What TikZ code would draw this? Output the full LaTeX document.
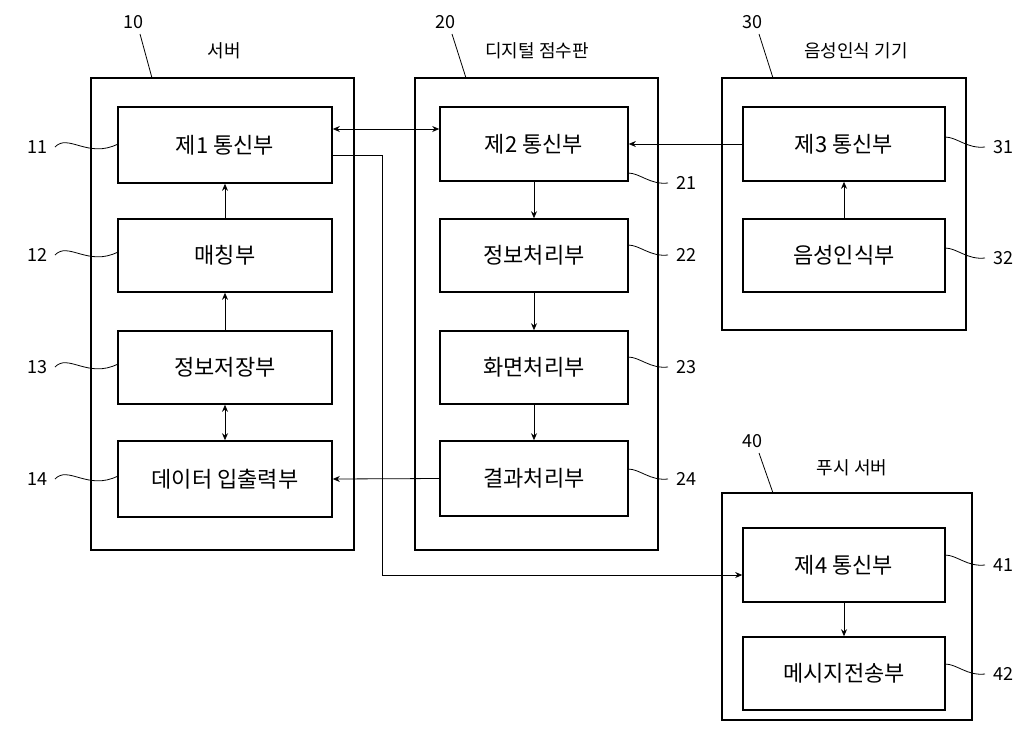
\documentclass[tikz,border=0pt]{standalone}
\usepackage{fontspec}
\setmainfont{Noto Sans CJK KR}
\usetikzlibrary{arrows.meta}
\begin{document}
\begin{tikzpicture}[x=1pt,y=-1pt,
 outer/.style={draw,line width=1.6pt},
 inner/.style={draw,line width=1.6pt,font=\fontsize{22}{24}\selectfont},
 lab/.style={font=\fontsize{18}{20}\selectfont},
 arr/.style={-{Stealth[length=7pt,width=6pt]},line width=0.8pt},
 barr/.style={{Stealth[length=7pt,width=6pt]}-{Stealth[length=7pt,width=6pt]},line width=0.8pt},
 sq/.style={line width=0.8pt}]
\useasboundingbox (0,0) rectangle (1024,748);
% outer
\draw[outer] (91,78) rectangle (354,550);
\draw[outer] (415,78) rectangle (658,550);
\draw[outer] (722,78) rectangle (966,330);
\draw[outer] (722,493) rectangle (972,720);
% inner
\node[inner,minimum width=214,minimum height=76] (b11) at (225,145) {제1 통신부};
\node[inner,minimum width=214,minimum height=73] (b12) at (225,255.5) {매칭부};
\node[inner,minimum width=214,minimum height=73] (b13) at (225,367.5) {정보저장부};
\node[inner,minimum width=214,minimum height=76] (b14) at (225,479) {데이터 입출력부};
\node[inner,minimum width=188,minimum height=74] (b21) at (534,144) {제2 통신부};
\node[inner,minimum width=188,minimum height=73] (b22) at (534,255.5) {정보처리부};
\node[inner,minimum width=188,minimum height=73] (b23) at (534,367.5) {화면처리부};
\node[inner,minimum width=188,minimum height=75] (b24) at (534,478.5) {결과처리부};
\node[inner,minimum width=202,minimum height=74] (b31) at (844,144) {제3 통신부};
\node[inner,minimum width=202,minimum height=73] (b32) at (844,255.5) {음성인식부};
\node[inner,minimum width=202,minimum height=74] (b41) at (844,565) {제4 통신부};
\node[inner,minimum width=202,minimum height=73] (b42) at (844,673.5) {메시지전송부};
% titles
\node[lab] (t10) at (224,51) {서버};
\node[lab] (t20) at (537,51) {디지털 점수판};
\node[lab] (t30) at (856,51) {음성인식 기기};
\node[lab] (t40) at (852,468) {푸시 서버};
\node[lab] (n10) at (133,22) {10};
\node[lab] (n20) at (445,22) {20};
\node[lab] (n30) at (752,22) {30};
\node[lab] (n40) at (752,441) {40};
\draw[sq] (140,34) -- (152,78);
\draw[sq] (452,34) -- (466,78);
\draw[sq] (759,34) -- (773,78);
\draw[sq] (759,453) -- (773,493);
% arrows
\draw[barr] (b11.east |- 0,129) -- (b21.west |- 0,129);
\draw[arr] (b31.west) -- (b21.east);
\draw[arr] (b24.west) -- (b14.east);
\draw[arr] (b11.east |- 0,155) -| (382,575) -- (b41.west |- 0,575);
\draw[arr] (b12) -- (b11);
\draw[arr] (b13) -- (b12);
\draw[barr] (b13) -- (b14);
\draw[arr] (b21) -- (b22);
\draw[arr] (b22) -- (b23);
\draw[arr] (b23) -- (b24);
\draw[arr] (b32) -- (b31);
\draw[arr] (b41) -- (b42);
% side labels
\foreach \n/\y in {11/147,12/255,13/367,14/479}{
 \node[lab] (l\n) at (37,\y) {\n};
 \draw[sq] (55,\y) .. controls (68,\y-14) and (88,\y+12) .. (118,\y-3);
}
\foreach \n/\y/\x in {21/183/628,22/255/628,23/367/628,24/479/628,31/147/945,32/258/945,41/565/945,42/674/945}{
 \node[lab] (l\n) at (\x+58,\y) {\n};
 \draw[sq] (\x,\y-10) .. controls (\x+12,\y-10) and (\x+22,\y+2) .. (\x+40,\y);
}
\end{tikzpicture}
\end{document}
